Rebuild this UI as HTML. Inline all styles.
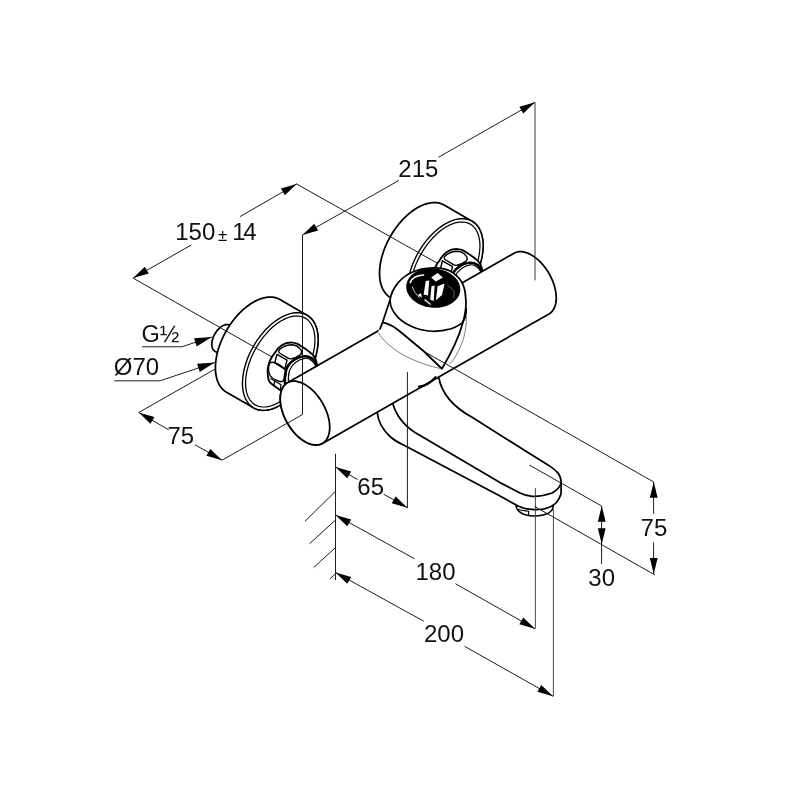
<!DOCTYPE html>
<html><head><meta charset="utf-8"><title>Drawing</title>
<style>html,body{margin:0;padding:0;background:#fff}svg{display:block}text{font-family:"Liberation Sans",sans-serif;fill:#111}</style>
</head><body>
<svg width="800" height="800" viewBox="0 0 800 800">
<rect width="800" height="800" fill="#fff"/>
<path d="M242.02 332.21 L229.90 325.21 L229.39 324.95 L228.86 324.76 L228.29 324.61 L227.70 324.53 L227.09 324.51 L226.46 324.54 L225.81 324.63 L225.15 324.79 L224.47 324.99 L223.78 325.26 L223.09 325.58 L222.40 325.95 L221.71 326.38 L221.02 326.86 L220.33 327.38 L219.66 327.95 L218.99 328.57 L218.34 329.23 L217.71 329.92 L217.10 330.66 L216.51 331.42 L215.94 332.21 L215.41 333.03 L214.90 333.87 L214.43 334.73 L213.99 335.60 L213.58 336.49 L213.21 337.38 L212.89 338.28 L212.60 339.17 L212.36 340.06 L212.16 340.94 L212.00 341.82 L211.88 342.67 L211.82 343.51 L211.79 344.32 L211.82 345.11 L211.88 345.87 L212.00 346.60 L212.15 347.28 L212.36 347.94 L212.60 348.54 L212.89 349.11 L213.21 349.63 L213.58 350.10 L213.99 350.51 L214.43 350.88 L214.90 351.19 L227.02 358.19" fill="#fff" stroke="#000" stroke-width="1.75" stroke-linejoin="round" stroke-linecap="round" />
<path d="M444.11 205.07 L442.31 204.16 L440.39 203.45 L438.38 202.95 L436.28 202.65 L434.10 202.56 L431.84 202.69 L429.53 203.02 L427.16 203.55 L424.75 204.30 L422.30 205.24 L419.84 206.38 L417.37 207.72 L414.89 209.24 L412.43 210.94 L409.99 212.82 L407.57 214.86 L405.21 217.06 L402.89 219.40 L400.63 221.88 L398.45 224.49 L396.35 227.21 L394.34 230.04 L392.42 232.96 L390.62 235.96 L388.92 239.02 L387.35 242.14 L385.91 245.29 L384.60 248.47 L383.44 251.67 L382.41 254.86 L381.54 258.04 L380.82 261.19 L380.26 264.30 L379.86 267.35 L379.62 270.34 L379.54 273.24 L379.62 276.05 L379.86 278.76 L380.26 281.34 L380.82 283.80 L381.54 286.12 L382.41 288.29 L383.44 290.31 L384.60 292.16 L385.91 293.83 L387.35 295.32 L388.92 296.62 L390.61 297.73 L418.50 313.83 L420.31 314.74 L422.22 315.45 L424.23 315.95 L426.33 316.25 L428.52 316.34 L430.77 316.21 L433.09 315.88 L435.46 315.35 L437.87 314.60 L440.31 313.66 L442.78 312.52 L445.25 311.18 L447.72 309.66 L450.19 307.96 L452.63 306.08 L455.04 304.04 L457.41 301.84 L459.73 299.50 L461.98 297.02 L464.16 294.41 L466.27 291.69 L468.28 288.86 L470.19 285.94 L472.00 282.94 L473.69 279.88 L475.26 276.76 L476.70 273.61 L478.01 270.43 L479.18 267.23 L480.20 264.04 L481.07 260.86 L481.79 257.71 L482.35 254.60 L482.76 251.55 L483.00 248.56 L483.08 245.66 L483.00 242.85 L482.76 240.14 L482.35 237.56 L481.79 235.10 L481.07 232.78 L480.20 230.61 L479.18 228.59 L478.01 226.74 L476.70 225.07 L475.26 223.58 L473.69 222.28 L472.00 221.17Z" fill="#fff" stroke="#000" stroke-width="1.75" stroke-linejoin="round" stroke-linecap="round" />
<path d="M472.00 221.17 L475.26 223.58 L478.01 226.74 L480.20 230.61 L481.79 235.10 L482.76 240.14 L483.08 245.66 L482.76 251.55 L481.79 257.71 L480.20 264.04 L478.01 270.43 L475.26 276.76 L472.00 282.94 L468.28 288.86 L464.16 294.41 L459.73 299.50 L455.04 304.04 L450.19 307.96 L445.25 311.18 L440.31 313.66 L435.46 315.35 L430.77 316.21 L426.33 316.25 L422.22 315.45 L418.50 313.83 L415.24 311.42 L412.49 308.26 L410.30 304.39 L408.71 299.90 L407.74 294.86 L407.42 289.34 L407.74 283.45 L408.71 277.29 L410.30 270.96 L412.49 264.57 L415.24 258.24 L418.50 252.06 L422.22 246.14 L426.34 240.59 L430.77 235.50 L435.46 230.96 L440.31 227.04 L445.25 223.82 L450.19 221.34 L455.04 219.65 L459.73 218.79 L464.17 218.75 L468.28 219.55 L472.00 221.17Z" fill="#fff" stroke="#000" stroke-width="1.4" stroke-linejoin="round" stroke-linecap="round" />
<path d="M470.30 224.11 L473.23 226.30 L475.67 229.19 L477.60 232.73 L478.98 236.87 L479.77 241.54 L479.98 246.65 L479.59 252.11 L478.62 257.84 L477.07 263.73 L474.98 269.69 L472.38 275.61 L469.31 281.39 L465.84 286.94 L462.01 292.15 L457.90 296.94 L453.57 301.23 L449.09 304.94 L444.55 308.00 L440.03 310.38 L435.59 312.02 L431.32 312.90 L427.28 313.00 L423.56 312.33 L420.20 310.89 L417.27 308.70 L414.83 305.81 L412.90 302.27 L411.52 298.13 L410.73 293.46 L410.52 288.35 L410.91 282.89 L411.88 277.16 L413.43 271.27 L415.52 265.31 L418.12 259.39 L421.19 253.61 L424.66 248.06 L428.49 242.85 L432.60 238.06 L436.93 233.77 L441.41 230.06 L445.95 227.00 L450.47 224.62 L454.91 222.98 L459.18 222.10 L463.22 222.00 L466.94 222.67 L470.30 224.11Z" fill="none" stroke="#000" stroke-width="1.25" stroke-linejoin="round" stroke-linecap="round" />
<path d="M267.2 368.5 C268 362 270 357 273.8 352.75 C276 349 278 346.5 281.25 344.4 C284 342.5 288 341.6 291.75 341.8 C294 341.9 295.5 342.4 297 343.1 L304 347.5 C307 349.5 309.5 351.5 311.9 353.6 C314 356 316 360 316.25 364 L300 392 L281.25 390.4 L272.5 384.25 C270 382.5 268.5 381 268.1 379 C267.3 376 267 372 267.2 368.5 Z" fill="#fff" stroke="#000" stroke-width="1.9" stroke-linejoin="round" stroke-linecap="round" transform="translate(166 -92.7)"/>
<path d="M285.6 387 C283.5 381 284 375 285.6 369.4 C287 365 289 362 292.6 359.75 C296 357 300 355.6 304 355.4 C307 355.3 310 356.3 311.9 358 C314 360 315.5 362 316.25 364.1" fill="none" stroke="#000" stroke-width="2.6" stroke-linejoin="round" stroke-linecap="round" transform="translate(166 -92.7)"/>
<path d="M288.25 383.5 C287.5 378 288 373 289.1 369.4 C290.5 366 292.5 363.5 295.25 361.5 C298 359.3 301 358 304 357.5 C306.5 357.3 309 358 311 359.75 C312.7 361 313.8 362.5 314.5 364" fill="none" stroke="#000" stroke-width="1.2" stroke-linejoin="round" stroke-linecap="round" transform="translate(166 -92.7)"/>
<path d="M279.5 348.3 C283 345.5 288 344 291.75 344 C295 344.2 298.5 346.5 300.6 349.25 C301.5 351 301.2 352.8 300 353.8 C297 356 294 357.4 290.9 358 C289.5 358.2 288.5 358 287.5 357.4 L279 352.2 C277.8 351 278 349.5 279.5 348.3 Z" fill="none" stroke="#000" stroke-width="1.4" stroke-linejoin="round" stroke-linecap="round" transform="translate(166 -92.7)"/>
<path d="M276.5 353.5 L286.5 359.3 L284.3 368.3 L274.2 362.2 Z" fill="none" stroke="#000" stroke-width="1.4" stroke-linejoin="round" stroke-linecap="round" transform="translate(166 -92.7)"/>
<path d="M269 362 C272 360.8 276 362 279 364 C283 366.5 285 368.5 285.6 371 C286 375 284 379.5 281 381 C278 381 272 378 269.8 375 C267.8 371.5 267.8 366 269 362 Z" fill="none" stroke="#000" stroke-width="1.4" stroke-linejoin="round" stroke-linecap="round" transform="translate(166 -92.7)"/>
<path d="M270.5 378 L280.5 384 L280 388.5 M274 381 L273.5 384.5" fill="none" stroke="#000" stroke-width="1.3" stroke-linejoin="round" stroke-linecap="round" transform="translate(166 -92.7)"/>
<path d="M279.98 299.57 L278.17 298.66 L276.26 297.95 L274.25 297.45 L272.15 297.15 L269.96 297.06 L267.71 297.19 L265.39 297.52 L263.02 298.05 L260.61 298.80 L258.17 299.74 L255.71 300.88 L253.23 302.22 L250.76 303.74 L248.29 305.44 L245.85 307.32 L243.44 309.36 L241.07 311.56 L238.75 313.90 L236.50 316.38 L234.32 318.99 L232.21 321.71 L230.20 324.54 L228.29 327.46 L226.48 330.46 L224.79 333.52 L223.22 336.64 L221.78 339.79 L220.47 342.97 L219.30 346.17 L218.28 349.36 L217.41 352.54 L216.69 355.69 L216.13 358.80 L215.72 361.85 L215.48 364.84 L215.40 367.74 L215.48 370.55 L215.72 373.26 L216.13 375.84 L216.69 378.30 L217.41 380.62 L218.28 382.79 L219.30 384.81 L220.47 386.66 L221.78 388.33 L223.22 389.82 L224.79 391.12 L226.48 392.23 L253.50 407.83 L255.31 408.74 L257.22 409.45 L259.23 409.95 L261.33 410.25 L263.52 410.34 L265.77 410.21 L268.09 409.88 L270.46 409.35 L272.87 408.60 L275.31 407.66 L277.78 406.52 L280.25 405.18 L282.72 403.66 L285.19 401.96 L287.63 400.08 L290.04 398.04 L292.41 395.84 L294.73 393.50 L296.98 391.02 L299.16 388.41 L301.27 385.69 L303.28 382.86 L305.19 379.94 L307.00 376.94 L308.69 373.88 L310.26 370.76 L311.70 367.61 L313.01 364.43 L314.18 361.23 L315.20 358.04 L316.07 354.86 L316.79 351.71 L317.35 348.60 L317.76 345.55 L318.00 342.56 L318.08 339.66 L318.00 336.85 L317.76 334.14 L317.35 331.56 L316.79 329.10 L316.07 326.78 L315.20 324.61 L314.18 322.59 L313.01 320.74 L311.70 319.07 L310.26 317.58 L308.69 316.28 L307.00 315.17Z" fill="#fff" stroke="#000" stroke-width="1.75" stroke-linejoin="round" stroke-linecap="round" />
<path d="M307.00 315.17 L310.26 317.58 L313.01 320.74 L315.20 324.61 L316.79 329.10 L317.76 334.14 L318.08 339.66 L317.76 345.55 L316.79 351.71 L315.20 358.04 L313.01 364.43 L310.26 370.76 L307.00 376.94 L303.28 382.86 L299.16 388.41 L294.73 393.50 L290.04 398.04 L285.19 401.96 L280.25 405.18 L275.31 407.66 L270.46 409.35 L265.77 410.21 L261.33 410.25 L257.22 409.45 L253.50 407.83 L250.24 405.42 L247.49 402.26 L245.30 398.39 L243.71 393.90 L242.74 388.86 L242.42 383.34 L242.74 377.45 L243.71 371.29 L245.30 364.96 L247.49 358.57 L250.24 352.24 L253.50 346.06 L257.22 340.14 L261.34 334.59 L265.77 329.50 L270.46 324.96 L275.31 321.04 L280.25 317.82 L285.19 315.34 L290.04 313.65 L294.73 312.79 L299.17 312.75 L303.28 313.55 L307.00 315.17Z" fill="#fff" stroke="#000" stroke-width="1.4" stroke-linejoin="round" stroke-linecap="round" />
<path d="M305.30 318.11 L308.23 320.30 L310.67 323.19 L312.60 326.73 L313.98 330.87 L314.77 335.54 L314.98 340.65 L314.59 346.11 L313.62 351.84 L312.07 357.73 L309.98 363.69 L307.38 369.61 L304.31 375.39 L300.84 380.94 L297.01 386.15 L292.90 390.94 L288.57 395.23 L284.09 398.94 L279.55 402.00 L275.03 404.38 L270.59 406.02 L266.32 406.90 L262.28 407.00 L258.56 406.33 L255.20 404.89 L252.27 402.70 L249.83 399.81 L247.90 396.27 L246.52 392.13 L245.73 387.46 L245.52 382.35 L245.91 376.89 L246.88 371.16 L248.43 365.27 L250.52 359.31 L253.12 353.39 L256.19 347.61 L259.66 342.06 L263.49 336.85 L267.60 332.06 L271.93 327.77 L276.41 324.06 L280.95 321.00 L285.47 318.62 L289.91 316.98 L294.18 316.10 L298.22 316.00 L301.94 316.67 L305.30 318.11Z" fill="none" stroke="#000" stroke-width="1.25" stroke-linejoin="round" stroke-linecap="round" />
<path d="M267.2 368.5 C268 362 270 357 273.8 352.75 C276 349 278 346.5 281.25 344.4 C284 342.5 288 341.6 291.75 341.8 C294 341.9 295.5 342.4 297 343.1 L304 347.5 C307 349.5 309.5 351.5 311.9 353.6 C314 356 316 360 316.25 364 L300 392 L281.25 390.4 L272.5 384.25 C270 382.5 268.5 381 268.1 379 C267.3 376 267 372 267.2 368.5 Z" fill="#fff" stroke="#000" stroke-width="1.9" stroke-linejoin="round" stroke-linecap="round" transform="translate(0.5 0.8)"/>
<path d="M285.6 387 C283.5 381 284 375 285.6 369.4 C287 365 289 362 292.6 359.75 C296 357 300 355.6 304 355.4 C307 355.3 310 356.3 311.9 358 C314 360 315.5 362 316.25 364.1" fill="none" stroke="#000" stroke-width="2.6" stroke-linejoin="round" stroke-linecap="round" transform="translate(0.5 0.8)"/>
<path d="M288.25 383.5 C287.5 378 288 373 289.1 369.4 C290.5 366 292.5 363.5 295.25 361.5 C298 359.3 301 358 304 357.5 C306.5 357.3 309 358 311 359.75 C312.7 361 313.8 362.5 314.5 364" fill="none" stroke="#000" stroke-width="1.2" stroke-linejoin="round" stroke-linecap="round" transform="translate(0.5 0.8)"/>
<path d="M279.5 348.3 C283 345.5 288 344 291.75 344 C295 344.2 298.5 346.5 300.6 349.25 C301.5 351 301.2 352.8 300 353.8 C297 356 294 357.4 290.9 358 C289.5 358.2 288.5 358 287.5 357.4 L279 352.2 C277.8 351 278 349.5 279.5 348.3 Z" fill="none" stroke="#000" stroke-width="1.4" stroke-linejoin="round" stroke-linecap="round" transform="translate(0.5 0.8)"/>
<path d="M276.5 353.5 L286.5 359.3 L284.3 368.3 L274.2 362.2 Z" fill="none" stroke="#000" stroke-width="1.4" stroke-linejoin="round" stroke-linecap="round" transform="translate(0.5 0.8)"/>
<path d="M269 362 C272 360.8 276 362 279 364 C283 366.5 285 368.5 285.6 371 C286 375 284 379.5 281 381 C278 381 272 378 269.8 375 C267.8 371.5 267.8 366 269 362 Z" fill="none" stroke="#000" stroke-width="1.4" stroke-linejoin="round" stroke-linecap="round" transform="translate(0.5 0.8)"/>
<path d="M270.5 378 L280.5 384 L280 388.5 M274 381 L273.5 384.5" fill="none" stroke="#000" stroke-width="1.3" stroke-linejoin="round" stroke-linecap="round" transform="translate(0.5 0.8)"/>
<path d="M516 506 C516.5 509 519 512 523 514 C527 515.5 530 516 533 516 C537 516 540 515.8 543 515 C546 514.2 549 513 550 512 C552 510.5 553 509.5 553.3 506 Z" fill="#fff" stroke="#000" stroke-width="1.5" stroke-linejoin="round" stroke-linecap="round" />
<path d="M518.5 509.3 C521 510.5 525 511 529 511.2 M528.6 511.2 L528.6 515.3" fill="none" stroke="#000" stroke-width="1.1" stroke-linejoin="round" stroke-linecap="round" />
<path d="M377.25 412.5 C378 420 382 429 390 436.5 C395 441 400 443.5 405 445.8 L500 496 L518 506 C522 508 528 509.3 534 509.6 C540 509.8 546 508.8 550 507 C555 505 559 500 561 494 L561.2 483 C561 478 559.5 474 556 471 C553 468 550 466.3 548 465 L524 450 L472.5 417.5 C455 408 442 395 438.75 377.5 L400 380 Z" fill="#fff" stroke="#000" stroke-width="1.75" stroke-linejoin="round" stroke-linecap="round" />
<path d="M392.5 402.5 C395 412 402 424 415 432.5 L500 482.6 L520 493 C524 495 528 496 532 496.3 C538 496.6 545 495.5 552 493 C556 491 559.5 488 561.2 483" fill="none" stroke="#000" stroke-width="1.75" stroke-linejoin="round" stroke-linecap="round" />
<path d="M287.50 382.79 L286.39 383.52 L285.37 384.37 L284.42 385.34 L283.57 386.44 L282.80 387.65 L282.14 388.96 L281.56 390.38 L281.09 391.90 L280.73 393.51 L280.46 395.20 L280.30 396.97 L280.25 398.81 L280.30 400.71 L280.46 402.66 L280.73 404.66 L281.10 406.69 L281.57 408.76 L282.14 410.84 L282.80 412.92 L283.57 415.01 L284.42 417.10 L285.37 419.16 L286.39 421.20 L287.50 423.20 L288.68 425.16 L289.93 427.07 L291.25 428.92 L292.63 430.70 L294.05 432.41 L295.53 434.03 L297.05 435.57 L298.60 437.01 L300.17 438.34 L301.77 439.57 L303.38 440.68 L305.00 441.68 L306.62 442.55 L308.23 443.30 L309.83 443.92 L311.41 444.40 L312.96 444.75 L314.47 444.97 L315.95 445.05 L317.37 444.99 L318.75 444.80 L320.07 444.47 L321.32 444.01 L322.50 443.41 L549.00 313.91 L550.11 313.18 L551.13 312.33 L552.08 311.36 L552.93 310.26 L553.70 309.05 L554.36 307.74 L554.94 306.32 L555.41 304.80 L555.77 303.19 L556.04 301.50 L556.20 299.73 L556.25 297.89 L556.20 295.99 L556.04 294.04 L555.77 292.04 L555.40 290.01 L554.93 287.94 L554.36 285.86 L553.70 283.78 L552.93 281.69 L552.08 279.60 L551.13 277.54 L550.11 275.50 L549.00 273.50 L547.82 271.54 L546.57 269.63 L545.25 267.78 L543.87 266.00 L542.45 264.29 L540.97 262.67 L539.45 261.13 L537.90 259.70 L536.33 258.36 L534.73 257.13 L533.12 256.02 L531.50 255.02 L529.88 254.15 L528.27 253.40 L526.67 252.78 L525.09 252.30 L523.54 251.95 L522.03 251.73 L520.55 251.65 L519.13 251.71 L517.75 251.90 L516.43 252.23 L515.18 252.69 L514.00 253.29Z" fill="#fff" stroke="#000" stroke-width="1.75" stroke-linejoin="round" stroke-linecap="round" />
<path d="M322.50 443.41 L324.63 441.83 L326.43 439.76 L327.86 437.24 L328.91 434.30 L329.54 431.00 L329.75 427.39 L329.54 423.54 L328.90 419.51 L327.86 415.36 L326.43 411.19 L324.63 407.04 L322.50 403.00 L320.07 399.13 L317.37 395.50 L314.47 392.17 L311.40 389.20 L308.23 386.63 L305.00 384.52 L301.77 382.90 L298.59 381.80 L295.53 381.23 L292.63 381.21 L289.93 381.73 L287.50 382.79 L285.37 384.37 L283.57 386.44 L282.14 388.96 L281.09 391.90 L280.46 395.20 L280.25 398.81 L280.46 402.66 L281.10 406.69 L282.14 410.84 L283.57 415.01 L285.37 419.16 L287.50 423.20 L289.93 427.07 L292.63 430.70 L295.53 434.03 L298.60 437.01 L301.77 439.57 L305.00 441.68 L308.23 443.30 L311.41 444.40 L314.47 444.97 L317.37 444.99 L320.07 444.47 L322.50 443.41Z" fill="#fff" stroke="#000" stroke-width="1.75" stroke-linejoin="round" stroke-linecap="round" />
<path d="M419 386.6 C424 386.3 430 383.5 435.5 377.2" fill="none" stroke="#000" stroke-width="2.2" stroke-linejoin="round" stroke-linecap="round" />
<path d="M379 329.75 L390 300 C392 287 402 276 414 271.5 C424 267.5 440 266 450 271 C459 276 465 285 465.5 296 C467 305 466 312 462.5 323.75 C459 337 453 350 441.9 368.75 L436.25 367.5 C431 366.3 426 364.8 420 362.5 C413 360 407 357 401.25 353.75 C396 350.5 391 347 386.25 342.5 C383 339.5 380 336 378.1 332.5 Z" fill="#fff"/>
<path d="M380 328.9 L382.7 322 L390 300 C392 287 402 276 414 271.5 C424 267.5 440 266 450 271 C459 276 465 285 465.5 296 C467 305 466 312 462.5 323.75 C459 337 453 350 441.9 368.75 L423.75 351.25 L401.25 332.5 C395 327 389 323.5 382.5 322.3" fill="none" stroke="#000" stroke-width="1.75" stroke-linejoin="round" stroke-linecap="round" />
<path d="M390 301.25 C390.5 306 392 310 395 313.75 C399 319.5 405 323.5 411.25 326.25 C418 329.5 425 331 432.5 331.25 C439 331.3 445 330.5 451.25 328.75 C456 327 460 325 462.5 322.5 C465 319 466.3 314 466.25 308.75" fill="none" stroke="#000" stroke-width="1.75" stroke-linejoin="round" stroke-linecap="round" />
<path d="M378.1 332.5 C380 336 383 339.5 386.25 342.5 C391 347 396 350.5 401.25 353.75 C407 357 413 360 420 362.5 C426 364.8 431 366.3 436.25 367.5 L441.9 368.75" fill="none" stroke="#444" stroke-width="0.7"/>
<path d="M466.4 316 C466.5 324 465.5 331 463.75 337.5 C461.5 345 459 350 456.25 355 C454.5 358.5 452.5 361 450 363.75" fill="none" stroke="#444" stroke-width="0.7"/>
<ellipse cx="433.25" cy="288" rx="27.2" ry="19.7" transform="rotate(6.5 433.25 288)" fill="#000"/>
<path d="M410.3 282.5 C411.5 278.5 416 275.6 423.5 275" fill="none" stroke="#fff" stroke-width="1.7" stroke-linecap="round"/>
<path d="M412.5 287 C413.5 291 416 294.5 419.5 297.5" fill="none" stroke="#ddd" stroke-width="0.9" stroke-linecap="round"/>
<path d="M431.1 277.5 L437.6 273.1 L442.9 277.5 L435.9 281.4 Z M425.8 281 L429.3 280.6 L428 295.4 L423.6 294.6 Z M431.5 286.25 L434.6 285.4 L433.7 301.1 L430.2 299.8 Z M437.6 286.25 L444.6 283.6 L442 295 L435.9 300.25 Z M417.5 295 L421 293.25 L421.9 297.6 Z" fill="#fff"/>
<path d="M424.5 299.4 L430.6 304.6" fill="none" stroke="#fff" stroke-width="1.3"/>
<path d="M447.5 286 C453 288 455.5 292 453.5 298" fill="none" stroke="#777" stroke-width="0.8"/>
<path d="M133.1 278.1 L191.25 245 M240 216.6 L296.6 184" fill="none" stroke="#1c1c1c" stroke-width="1.0"/>
<path d="M133.10 278.10 L144.83 266.82 L148.73 273.58Z" fill="#000"/>
<path d="M296.60 184.00 L284.87 195.28 L280.97 188.52Z" fill="#000"/>
<path d="M133.1 278.1 L271 356.5" fill="none" stroke="#1c1c1c" stroke-width="1.0"/>
<path d="M296.25 183.75 L437 263" fill="none" stroke="#1c1c1c" stroke-width="1.0"/>
<path d="M302.5 235 L398.75 180.5 M438.5 157.25 L535 102.25" fill="none" stroke="#1c1c1c" stroke-width="1.0"/>
<path d="M302.50 235.00 L314.23 223.72 L318.13 230.48Z" fill="#000"/>
<path d="M535.00 102.25 L523.27 113.53 L519.37 106.77Z" fill="#000"/>
<path d="M302.5 235 L302.5 414.5" fill="none" stroke="#1c1c1c" stroke-width="1.0"/>
<path d="M535 102 L535 280.4" fill="none" stroke="#3a3a3a" stroke-width="1.0"/>
<path d="M138.75 412.5 L168.75 429.8 M195 444.8 L222 460" fill="none" stroke="#1c1c1c" stroke-width="1.0"/>
<path d="M138.75 412.50 L154.38 417.02 L150.48 423.78Z" fill="#000"/>
<path d="M222.00 460.20 L206.37 455.68 L210.27 448.92Z" fill="#000"/>
<path d="M138.75 412.5 L214.75 369.25 M222 460.2 L302.5 414.5" fill="none" stroke="#1c1c1c" stroke-width="1.0"/>
<path d="M142 346.75 L181.75 346.75 L211.75 337" fill="none" stroke="#1c1c1c" stroke-width="1.0"/>
<path d="M211.75 337.00 L196.72 346.41 L194.06 338.23Z" fill="#000"/>
<path d="M114.25 380.8 L160 380.8 L214.75 362.5" fill="none" stroke="#1c1c1c" stroke-width="1.0"/>
<path d="M214.75 362.50 L199.79 372.02 L197.07 363.86Z" fill="#000"/>
<path d="M335.5 453.75 L335.5 580 M335.5 491.25 L305 521.25 M335.5 520 L309.5 543.75 M335.5 547.5 L313.75 567.5 M335.5 573.75 L330 578.75" fill="none" stroke="#1c1c1c" stroke-width="1.0"/>
<path d="M335.5 467 L357.5 479.5 M383.75 494.25 L407.4 507.7" fill="none" stroke="#1c1c1c" stroke-width="1.0"/>
<path d="M335.50 467.00 L351.13 471.52 L347.23 478.28Z" fill="#000"/>
<path d="M407.40 507.70 L391.77 503.18 L395.67 496.42Z" fill="#000"/>
<path d="M407.4 372 L407.4 508" fill="none" stroke="#1c1c1c" stroke-width="1.0"/>
<path d="M335.5 515 L414.5 558.75 M455.5 583.75 L535 628.75" fill="none" stroke="#1c1c1c" stroke-width="1.0"/>
<path d="M335.50 515.00 L351.13 519.52 L347.23 526.28Z" fill="#000"/>
<path d="M535.00 628.75 L519.37 624.23 L523.27 617.47Z" fill="#000"/>
<path d="M335.5 572.5 L423.75 621.25 M464.5 646.25 L553 696.25" fill="none" stroke="#1c1c1c" stroke-width="1.0"/>
<path d="M335.50 572.50 L351.13 577.02 L347.23 583.78Z" fill="#000"/>
<path d="M553.00 696.25 L537.37 691.73 L541.27 684.97Z" fill="#000"/>
<path d="M535.4 488 L535.4 628.75 M553.4 509 L553.4 696.25" fill="none" stroke="#4a4a4a" stroke-width="1.0"/>
<path d="M425 352 L653.75 482" fill="none" stroke="#1c1c1c" stroke-width="1.0"/>
<path d="M653.6 482 L653.6 513.75 M653.6 542.5 L653.6 573.75" fill="none" stroke="#1c1c1c" stroke-width="1.0"/>
<path d="M653.75 482.00 L657.65 497.80 L649.85 497.80Z" fill="#000"/>
<path d="M653.75 573.75 L649.85 557.95 L657.65 557.95Z" fill="#000"/>
<path d="M601.6 506 L601.6 564" fill="none" stroke="#1c1c1c" stroke-width="1.0"/>
<path d="M601.75 506.00 L605.65 521.80 L597.85 521.80Z" fill="#000"/>
<path d="M601.75 544.00 L597.85 528.20 L605.65 528.20Z" fill="#000"/>
<path d="M529.3 465 L601.6 506 M534.7 506.5 L655 575" fill="none" stroke="#1c1c1c" stroke-width="1.0"/>
<g style="filter:grayscale(1)">
<text x="175.2" y="239.75" font-size="24" text-anchor="start" >150</text>
<text x="232.2" y="239.75" font-size="24" text-anchor="start" letter-spacing="-2.3">14</text>
<text x="222.6" y="240.5" font-size="17" text-anchor="middle" fill="#9a9a9a">±</text>
<text x="398.3" y="176.75" font-size="24" text-anchor="start" >215</text>
<text x="167.5" y="444.1" font-size="24" text-anchor="start" >75</text>
<text x="141.5" y="341.5" font-size="23.5" text-anchor="start" >G½</text>
<text x="113.8" y="374.8" font-size="24" text-anchor="start" >Ø70</text>
<text x="357.3" y="495" font-size="24" text-anchor="start" >65</text>
<text x="415.5" y="579.5" font-size="24" text-anchor="start" >180</text>
<text x="424" y="642" font-size="24" text-anchor="start" >200</text>
<text x="588.3" y="585.5" font-size="24" text-anchor="start" >30</text>
<text x="640.6" y="536" font-size="24" text-anchor="start" >75</text>
</g>
</svg></body></html>
